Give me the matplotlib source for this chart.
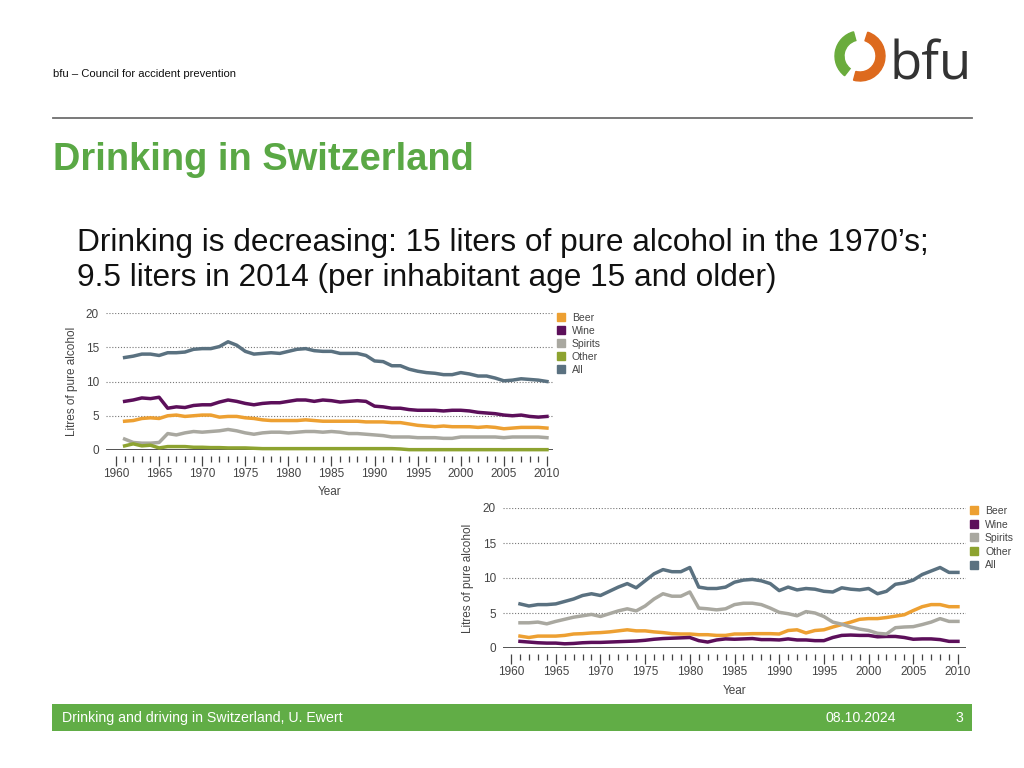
"""
Slide: Drinking in Switzerland (bfu)
Two line charts of litres of pure alcohol per inhabitant by drink type
"""

import numpy as np
import matplotlib
matplotlib.use("Agg")
import matplotlib.pyplot as plt
from matplotlib.patches import Rectangle, Wedge
from matplotlib.lines import Line2D

SLIDE_FONT = ["Liberation Sans", "DejaVu Sans"]
CHART_FONT = ["Liberation Sans Narrow", "Liberation Sans", "DejaVu Sans"]

years = np.arange(1961, 2011)
labels = ["Beer", "Wine", "Spirits", "Other", "All"]
colors = ["#eda032", "#5c0f5a", "#a9a8a0", "#8da330", "#5a7180"]

# top chart: Switzerland
ch_beer = [4.2, 4.3, 4.6, 4.7, 4.6, 5.0, 5.1, 4.9, 5.0, 5.1,
           5.1, 4.8, 4.9, 4.9, 4.7, 4.6, 4.4, 4.3, 4.3, 4.3,
           4.3, 4.4, 4.3, 4.2, 4.2, 4.2, 4.2, 4.2, 4.1, 4.1,
           4.1, 4.0, 4.0, 3.8, 3.6, 3.5, 3.4, 3.5, 3.4, 3.4,
           3.4, 3.3, 3.4, 3.3, 3.1, 3.2, 3.3, 3.3, 3.3, 3.2]
ch_wine = [7.1, 7.3, 7.6, 7.5, 7.7, 6.1, 6.3, 6.2, 6.5, 6.6,
           6.6, 7.0, 7.3, 7.1, 6.8, 6.6, 6.8, 6.9, 6.9, 7.1,
           7.3, 7.3, 7.1, 7.3, 7.2, 7.0, 7.1, 7.2, 7.1, 6.4,
           6.3, 6.1, 6.1, 5.9, 5.8, 5.8, 5.8, 5.7, 5.8, 5.8,
           5.7, 5.5, 5.4, 5.3, 5.1, 5.0, 5.1, 4.9, 4.8, 4.9]
ch_spirits = [1.6, 1.1, 1.0, 1.0, 1.1, 2.4, 2.2, 2.5, 2.7, 2.6,
              2.7, 2.8, 3.0, 2.8, 2.5, 2.3, 2.5, 2.6, 2.6, 2.5,
              2.6, 2.7, 2.7, 2.6, 2.7, 2.6, 2.4, 2.4, 2.3, 2.2,
              2.1, 1.9, 1.9, 1.9, 1.8, 1.8, 1.8, 1.7, 1.7, 1.9,
              1.9, 1.9, 1.9, 1.9, 1.8, 1.9, 1.9, 1.9, 1.9, 1.8]
ch_other = [0.6, 0.9, 0.6, 0.7, 0.3, 0.5, 0.5, 0.5, 0.4, 0.4,
            0.35, 0.35, 0.3, 0.3, 0.3, 0.25, 0.2, 0.2, 0.2, 0.2,
            0.2, 0.2, 0.2, 0.2, 0.2, 0.2, 0.2, 0.2, 0.2, 0.2,
            0.2, 0.2, 0.15, 0.05, 0.05, 0.05, 0.05, 0.05, 0.05, 0.05,
            0.05, 0.05, 0.05, 0.05, 0.05, 0.05, 0.05, 0.05, 0.05, 0.05]
ch_all = [13.5, 13.7, 14.0, 14.0, 13.8, 14.2, 14.2, 14.3, 14.7, 14.8,
          14.8, 15.1, 15.8, 15.3, 14.4, 14.0, 14.1, 14.2, 14.1, 14.4,
          14.7, 14.8, 14.5, 14.4, 14.4, 14.1, 14.1, 14.1, 13.8, 13.0,
          12.9, 12.3, 12.3, 11.8, 11.5, 11.3, 11.2, 11.0, 11.0, 11.3,
          11.1, 10.8, 10.8, 10.5, 10.1, 10.2, 10.4, 10.3, 10.2, 10.0]

# bottom chart: comparison country (no "Other" line drawn)
cmp_beer = [1.7, 1.5, 1.7, 1.7, 1.7, 1.8, 2.0, 2.05, 2.15, 2.2,
            2.3, 2.45, 2.6, 2.45, 2.45, 2.3, 2.2, 2.05, 2.0, 2.0,
            1.9, 1.9, 1.8, 1.8, 2.0, 2.0, 2.05, 2.05, 2.05, 2.0,
            2.5, 2.6, 2.15, 2.5, 2.6, 3.0, 3.35, 3.7, 4.1, 4.2,
            4.2, 4.35, 4.55, 4.75, 5.35, 5.9, 6.2, 6.2, 5.9, 5.9]
cmp_wine = [0.95, 0.85, 0.75, 0.7, 0.7, 0.6, 0.65, 0.75, 0.8, 0.8,
            0.85, 0.9, 0.95, 1.0, 1.1, 1.25, 1.35, 1.4, 1.45, 1.5,
            1.05, 0.85, 1.15, 1.3, 1.25, 1.3, 1.35, 1.2, 1.2, 1.15,
            1.3, 1.15, 1.15, 1.05, 1.05, 1.5, 1.8, 1.85, 1.8, 1.8,
            1.6, 1.65, 1.65, 1.5, 1.25, 1.3, 1.3, 1.2, 0.95, 0.95]
cmp_spirits = [3.6, 3.6, 3.7, 3.45, 3.8, 4.1, 4.4, 4.6, 4.8, 4.5,
               4.9, 5.3, 5.6, 5.3, 6.0, 7.0, 7.75, 7.4, 7.4, 8.0,
               5.7, 5.6, 5.45, 5.6, 6.2, 6.4, 6.4, 6.2, 5.7, 5.1,
               4.9, 4.6, 5.2, 5.0, 4.5, 3.7, 3.4, 3.0, 2.7, 2.5,
               2.1, 2.0, 2.9, 3.0, 3.05, 3.35, 3.7, 4.2, 3.8, 3.8]
cmp_all = [6.3, 6.0, 6.2, 6.2, 6.3, 6.65, 7.0, 7.5, 7.75, 7.5,
           8.1, 8.7, 9.2, 8.6, 9.6, 10.6, 11.2, 10.9, 10.9, 11.5,
           8.7, 8.5, 8.5, 8.7, 9.4, 9.7, 9.8, 9.6, 9.2, 8.2,
           8.7, 8.3, 8.5, 8.4, 8.1, 8.0, 8.6, 8.4, 8.3, 8.5,
           7.75, 8.1, 9.1, 9.3, 9.7, 10.5, 11.0, 11.5, 10.8, 10.8]

W, H = 1024, 768


def draw_chart(rect, xlim, series, legend_anchor, spacing):
    """Draw one litres-of-alcohol chart in the given figure rect."""
    ax = fig.add_axes(rect)
    ax.set_xlim(*xlim)
    ax.set_ylim(0, 20)
    for s in ["top", "right", "left"]:
        ax.spines[s].set_visible(False)
    ax.spines["bottom"].set_position(("outward", 4.3))
    ax.spines["bottom"].set_visible(False)

    ax.set_yticks([0, 5, 10, 15, 20])
    ax.tick_params(axis="y", length=0, pad=5, labelsize=8.5, labelcolor="#444444")
    ax.set_xticks(range(1960, 2011, 5))
    ax.set_xticks(range(1960, 2011), minor=True)
    ax.tick_params(axis="x", which="major", length=7.5, width=0.9, color="#444444",
                   pad=1, labelsize=8.5, labelcolor="#444444")
    ax.tick_params(axis="x", which="minor", length=4.5, width=0.9, color="#444444")
    for lab in ax.get_xticklabels() + ax.get_yticklabels():
        lab.set_family(CHART_FONT)

    for yv in [5, 10, 15, 20]:
        ax.axhline(yv, color="#777777", lw=0.8, ls=(0, (1, 1.6)), zorder=1)
    ax.axhline(0, color="#444444", lw=1.3, zorder=1.5)

    for (name, vals), col in zip(series, colors):
        if vals is None:
            continue
        ax.plot(years, vals, color=col, lw=2.5, solid_joinstyle="round",
                clip_on=False, zorder=2)

    ax.set_ylabel("Litres of pure alcohol", family=CHART_FONT, fontsize=8.5, color="#444444")
    ax.yaxis.set_label_coords(-0.0626, 0.5)
    ax.set_xlabel("Year", family=CHART_FONT, fontsize=8.5, color="#444444")
    ax.xaxis.set_label_coords(0.5, -0.265)

    handles = [Line2D([], [], marker="s", ls="none", markersize=5.8, color=c) for c in colors]
    fig.legend(handles, labels, loc="upper left", bbox_to_anchor=legend_anchor,
               frameon=False, prop={"family": CHART_FONT, "size": 7.5},
               labelcolor="#444444", handlelength=0.8, handletextpad=0.64,
               labelspacing=spacing, borderpad=0, borderaxespad=0)
    return ax


fig = plt.figure(figsize=(W / 100, H / 100), dpi=100)

# slide decoration, in pixel coordinates
deco = fig.add_axes([0, 0, 1, 1])
deco.set_xlim(0, W)
deco.set_ylim(H, 0)
deco.axis("off")

deco.text(53, 77, "bfu – Council for accident prevention", fontsize=8.1,
          family=SLIDE_FONT, color="#111111", va="baseline")
deco.plot([53, 972], [118, 118], color="#6e6e6e", lw=1.3)
deco.text(53, 170, "Drinking in Switzerland", fontsize=27.4, fontweight="bold",
          family=SLIDE_FONT, color="#5aa845", va="baseline")
deco.text(77, 251, "Drinking is decreasing: 15 liters of pure alcohol in the 1970’s;",
          fontsize=22.8, family=SLIDE_FONT, color="#111111", va="baseline")
deco.text(77, 286, "9.5 liters in 2014 (per inhabitant age 15 and older)",
          fontsize=22.8, family=SLIDE_FONT, color="#111111", va="baseline")

# footer bar
deco.add_patch(Rectangle((52, 704), 920, 27, color="#61ad46", lw=0))
deco.text(62, 722, "Drinking and driving in Switzerland, U. Ewert", fontsize=10.2,
          family=SLIDE_FONT, color="white", va="baseline")
deco.text(825, 722, "08.10.2024", fontsize=10.2, family=SLIDE_FONT,
          color="white", va="baseline")
deco.text(959, 722, "3", fontsize=10.2, family=SLIDE_FONT, color="white",
          va="baseline", ha="center")

# bfu logo
deco.add_patch(Wedge((860, 56), 25, 128, 255, width=9, color="#6aac3c"))
deco.add_patch(Wedge((860, 56), 25, -72, 105, width=9, color="#dd6a1e"))
deco.text(972, 80, "bfu", fontsize=38, family=["Open Sans", "Liberation Sans"],
          color="#333333", va="baseline", ha="right")

# top chart: Switzerland
draw_chart([106 / W, 1 - 450 / H, 447 / W, 137 / H], (1958.84, 2010.7),
           [("Beer", ch_beer), ("Wine", ch_wine), ("Spirits", ch_spirits),
            ("Other", ch_other), ("All", ch_all)],
           (557 / W, 1 - 313 / H), 0.29)

# bottom chart
draw_chart([503 / W, 1 - 648 / H, 463 / W, 140 / H], (1959.1, 2010.9),
           [("Beer", cmp_beer), ("Wine", cmp_wine), ("Spirits", cmp_spirits),
            ("Other", None), ("All", cmp_all)],
           (970 / W, 1 - 506 / H), 0.34)

fig.savefig("out.png", dpi=100)
